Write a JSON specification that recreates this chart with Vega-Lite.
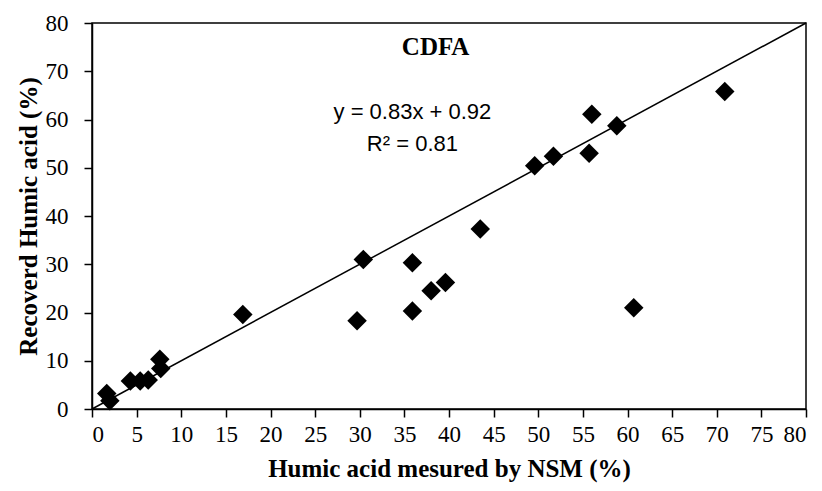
{
  "$schema": "https://vega.github.io/schema/vega-lite/v6.json",
  "width": 714,
  "height": 386,
  "autosize": {"type": "none"},
  "padding": {"left": 92, "top": 23, "right": 16, "bottom": 82},
  "config": {
    "view": {"stroke": "black", "strokeWidth": 1.5},
    "axis": {"grid": false, "domainColor": "black", "domainWidth": 1.5, "tickColor": "black", "tickWidth": 1.5, "tickSize": 8,
      "labelFont": "Liberation Serif", "labelFontSize": 23, "labelColor": "black",
      "titleFont": "Liberation Serif", "titleFontSize": 25, "titleFontWeight": "bold", "titleColor": "black"}
  },
  "datasets": {
    "pts": [
      {"nsm": 1.65, "rec": 3.2}, {"nsm": 2.0, "rec": 1.7}, {"nsm": 4.3, "rec": 5.8}, {"nsm": 5.4, "rec": 5.8},
      {"nsm": 6.3, "rec": 6.0}, {"nsm": 7.6, "rec": 10.3}, {"nsm": 7.7, "rec": 8.4}, {"nsm": 16.9, "rec": 19.6},
      {"nsm": 29.7, "rec": 18.3}, {"nsm": 30.4, "rec": 31.0}, {"nsm": 35.9, "rec": 30.3}, {"nsm": 35.9, "rec": 20.3},
      {"nsm": 38.0, "rec": 24.5}, {"nsm": 39.6, "rec": 26.2}, {"nsm": 43.5, "rec": 37.3}, {"nsm": 60.7, "rec": 21.0},
      {"nsm": 49.6, "rec": 50.4}, {"nsm": 51.7, "rec": 52.4}, {"nsm": 55.7, "rec": 53.0}, {"nsm": 56.0, "rec": 61.1},
      {"nsm": 58.8, "rec": 58.7}, {"nsm": 70.9, "rec": 65.8}
    ],
    "line": [{"x1": 0, "y1": 0, "x2": 80, "y2": 80}],
    "labels": [
      {"x": 38.5, "y": 75.1, "t": "CDFA", "kind": "title"},
      {"x": 35.9, "y": 61.5, "t": "y = 0.83x + 0.92", "kind": "eq"},
      {"x": 35.9, "y": 55.0, "t": "R² = 0.81", "kind": "eq"}
    ]
  },
  "layer": [
    {
      "data": {"name": "line"},
      "mark": {"type": "rule", "color": "black", "strokeWidth": 1.5},
      "encoding": {
        "x": {"field": "x1", "type": "quantitative", "scale": {"domain": [0, 80], "nice": false}, "axis": {"values": [0,5,10,15,20,25,30,35,40,45,50,55,60,65,70,75,80], "title": "Humic acid mesured by NSM (%)", "labelPadding": 6, "titlePadding": 10}},
        "y": {"field": "y1", "type": "quantitative", "scale": {"domain": [0, 80], "nice": false}, "axis": {"values": [0,10,20,30,40,50,60,70,80], "title": "Recoverd Humic acid (%)", "labelPadding": 16, "titlePadding": 4}},
        "x2": {"field": "x2"},
        "y2": {"field": "y2"}
      }
    },
    {
      "data": {"name": "pts"},
      "mark": {"type": "point", "shape": "diamond", "filled": true, "color": "black", "size": 380, "opacity": 1},
      "encoding": {
        "x": {"field": "nsm", "type": "quantitative"},
        "y": {"field": "rec", "type": "quantitative"}
      }
    },
    {
      "data": {"name": "labels"},
      "transform": [{"filter": "datum.kind == 'title'"}],
      "mark": {"type": "text", "font": "Liberation Serif", "fontWeight": "bold", "fontSize": 25, "color": "black", "baseline": "middle"},
      "encoding": {
        "x": {"field": "x", "type": "quantitative"},
        "y": {"field": "y", "type": "quantitative"},
        "text": {"field": "t"}
      }
    },
    {
      "data": {"name": "labels"},
      "transform": [{"filter": "datum.kind == 'eq'"}],
      "mark": {"type": "text", "font": "Liberation Sans", "fontSize": 22, "color": "black", "baseline": "middle"},
      "encoding": {
        "x": {"field": "x", "type": "quantitative"},
        "y": {"field": "y", "type": "quantitative"},
        "text": {"field": "t"}
      }
    }
  ]
}
